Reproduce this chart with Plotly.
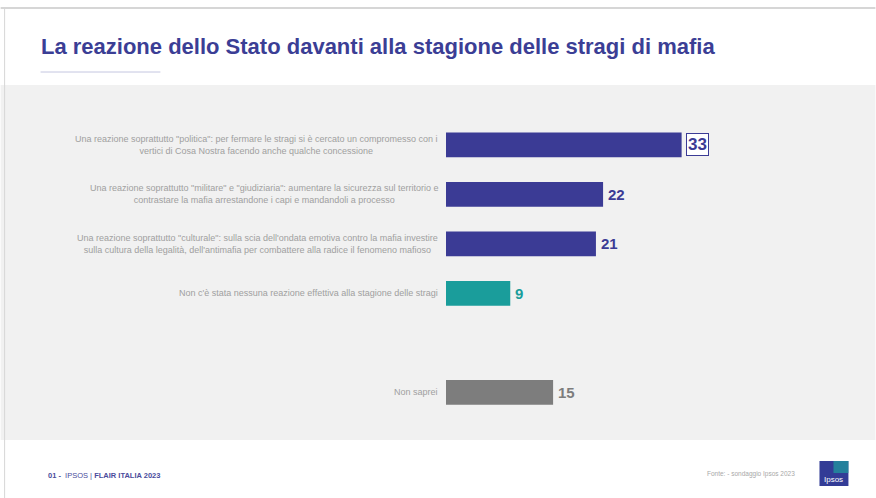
import plotly.graph_objects as go

W, H = 876, 498

# Survey answers (top to bottom) and percentages
answers = [
    "Una reazione soprattutto \"politica\": per fermare le stragi si è cercato un compromesso con i<br>vertici di Cosa Nostra facendo anche qualche concessione",
    "Una reazione soprattutto \"militare\" e \"giudiziaria\": aumentare la sicurezza sul territorio e<br>contrastare la mafia arrestandone i capi e mandandoli a processo",
    "Una reazione soprattutto \"culturale\": sulla scia dell'ondata emotiva contro la mafia investire<br>sulla cultura della legalità, dell'antimafia per combattere alla radice il fenomeno mafioso",
    "Non c'è stata nessuna reazione effettiva alla stagione delle stragi",
    " ",
    "Non saprei",
]
values = [33, 22, 21, 9, None, 15]
bar_colors = ["#3b3b95", "#3b3b95", "#3b3b95", "#1a9d9b", "#ffffff", "#7d7d7d"]
label_colors = ["#3b3b95", "#3b3b95", "#3b3b95", "#1a9d9b", "#ffffff", "#7d7d7d"]

title = "La reazione dello Stato davanti alla stagione delle stragi di mafia"
footer_left = "<b>01 -</b>  IPSOS | <b>FLAIR ITALIA 2023</b>"
footer_right = "Fonte: - sondaggio Ipsos 2023"

# plot area in pixels
L, R, T, B = 446, 72.5, 120, 81
PW, PH = W - L - R, H - T - B


def px(x):
    return (x - L) / PW


def py(y):
    return (H - B - y) / PH


fig = go.Figure()
fig.add_trace(go.Bar(
    x=[v if v is not None else 0 for v in values],
    y=answers,
    orientation="h",
    marker=dict(color=bar_colors, line=dict(width=0)),
    hoverinfo="skip",
))

shapes = [
    # grey content panel
    dict(type="rect", xref="paper", yref="paper", x0=px(0), x1=px(W), y0=py(440), y1=py(85),
         fillcolor="#f1f1f1", line=dict(width=0), layer="below"),
    # slide frame
    dict(type="line", xref="paper", yref="paper", x0=px(0), x1=px(W), y0=py(8), y1=py(8),
         line=dict(color="#c9c9c9", width=1.5)),
    dict(type="line", xref="paper", yref="paper", x0=px(4), x1=px(4), y0=py(8), y1=py(H),
         line=dict(color="#d6d6d6", width=1)),
    # title underline
    dict(type="line", xref="paper", yref="paper", x0=px(40), x1=px(160), y0=py(72), y1=py(72),
         line=dict(color="#c4c6e0", width=1)),
    # logo
    dict(type="rect", xref="paper", yref="paper", x0=px(820), x1=px(849), y0=py(486), y1=py(461),
         fillcolor="#333c96", line=dict(width=0)),
    dict(type="rect", xref="paper", yref="paper", x0=px(834), x1=px(849), y0=py(473), y1=py(461),
         fillcolor="#1f9c9e", opacity=0.7, line=dict(width=0)),
]

annotations = [
    dict(text=f"<b>{title}</b>", xref="paper", yref="paper", x=px(38), y=py(47),
         xanchor="left", yanchor="middle", showarrow=False,
         font=dict(family="Liberation Sans Narrow, Liberation Sans, Arial", size=22, color="#3b3e95")),
    dict(text=footer_left, xref="paper", yref="paper", x=px(45), y=py(475),
         xanchor="left", yanchor="middle", showarrow=False,
         font=dict(family="Liberation Sans, Arial", size=7.5, color="#4a4c9c")),
    dict(text=footer_right, xref="paper", yref="paper", x=px(797), y=py(474),
         xanchor="right", yanchor="middle", showarrow=False,
         font=dict(family="Liberation Sans, Arial", size=6.5, color="#a8a8a8")),
    dict(text="Ipsos", xref="paper", yref="paper", x=px(834.5), y=py(479),
         xanchor="center", yanchor="middle", showarrow=False,
         font=dict(family="Liberation Sans, Arial", size=8, color="#ffffff")),
]

for ans, v, c in zip(answers, values, label_colors):
    if v is None:
        continue
    annotations.append(dict(
        text=ans, xref="paper", yref="y", x=0, y=ans, xanchor="right", yanchor="middle",
        xshift=-6, align="center", showarrow=False,
        font=dict(family="Liberation Sans, Arial", size=9, color="#a0a0a0")))
    boxed = v == max(x for x in values if x is not None)
    annotations.append(dict(
        text=f"<b>{v}</b>", xref="x", yref="y", x=v, y=ans, xanchor="left", yanchor="middle",
        xshift=4, showarrow=False,
        font=dict(family="Liberation Sans, Arial", size=17 if boxed else 15, color=c),
        bordercolor=c if boxed else None, borderwidth=1 if boxed else 0, borderpad=1,
        bgcolor="#ffffff" if boxed else None))

fig.update_layout(
    width=W, height=H,
    margin=dict(l=L, r=R, t=T, b=B),
    paper_bgcolor="#ffffff", plot_bgcolor="rgba(0,0,0,0)",
    bargap=0.5, showlegend=False,
    xaxis=dict(range=[0, 50], visible=False, fixedrange=True),
    yaxis=dict(autorange="reversed", showticklabels=False, showgrid=False, zeroline=False,
               fixedrange=True),
    shapes=shapes, annotations=annotations,
)

fig.write_html("out.html", config={"displayModeBar": False})
